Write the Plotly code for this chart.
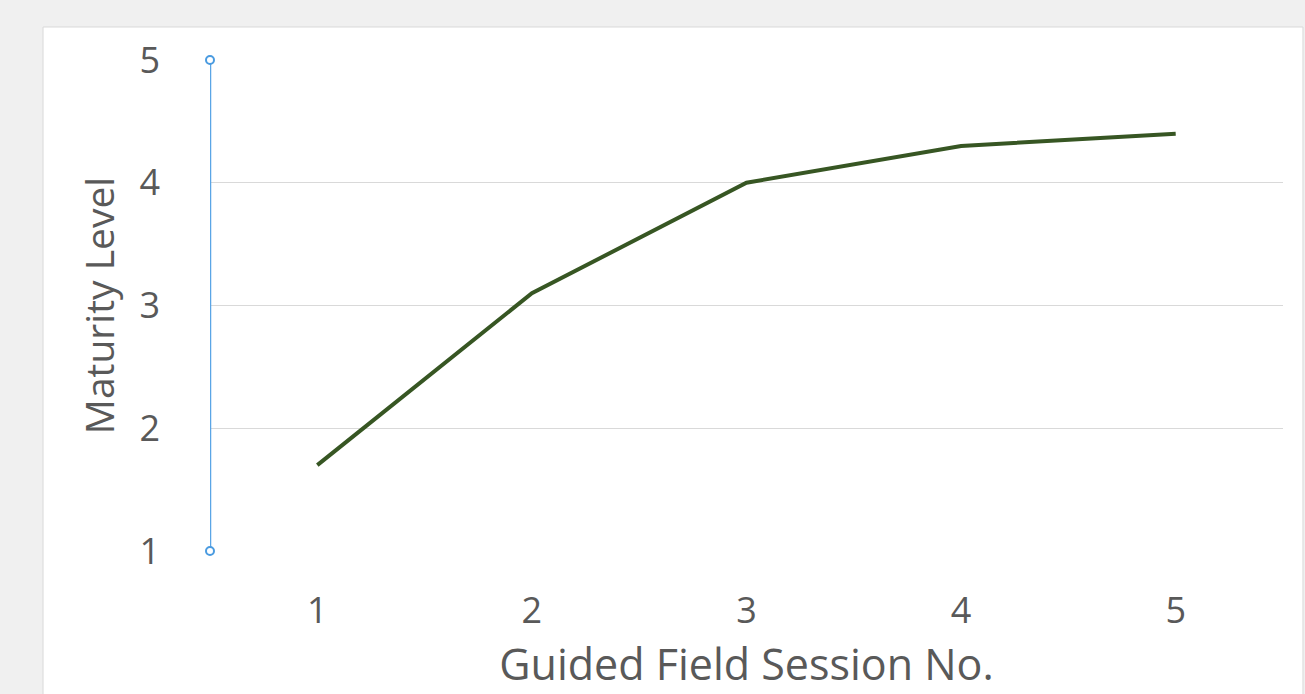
import plotly.graph_objects as go

sessions = [1, 2, 3, 4, 5]
maturity = [1.7, 3.1, 4.0, 4.3, 4.4]
y_ticks = [1, 2, 3, 4, 5]
x_title = "Guided Field Session No."
y_title = "Maturity Level"

FONT = "Open Sans, Noto Sans, sans-serif"
TXT = "#595959"

fig = go.Figure()

# selected y-axis indicator (Excel selection handles)
fig.add_trace(go.Scatter(
    x=[0.5, 0.5], y=[min(y_ticks), max(y_ticks)], mode="lines+markers",
    line=dict(color="#5aa5e6", width=2.5),
    marker=dict(size=8, color="white", line=dict(color="#4a9be0", width=2)),
    cliponaxis=False, hoverinfo="skip", showlegend=False))

fig.add_trace(go.Scatter(
    x=sessions, y=maturity, mode="lines",
    line=dict(color="#375623", width=4),
    showlegend=False))

fig.add_shape(type="rect", xref="paper", yref="paper",
              x0=-0.1556, x1=1.0186, y0=-0.4, y1=1.0672,
              fillcolor="white", line=dict(color="#d9d9d9", width=1),
              layer="below")

fig.update_layout(
    width=1305, height=694,
    margin=dict(l=210, r=22, t=60, b=143),
    paper_bgcolor="#f0f0f0", plot_bgcolor="rgba(0,0,0,0)",
    font=dict(family=FONT, color=TXT, size=36),
    xaxis=dict(range=[0.5, 5.5], tickvals=sessions, showgrid=False,
               zeroline=False, showline=False, ticks="",
               ticklabelstandoff=35,
               tickfont=dict(size=36, color=TXT),
               title=dict(text=x_title, font=dict(size=43, color=TXT), standoff=14)),
    yaxis=dict(range=[1, 5], tickvals=y_ticks, showgrid=True,
               gridcolor="#d9d9d9", gridwidth=1, zeroline=False,
               showline=False, ticks="", ticklabelstandoff=49,
               tickfont=dict(size=36, color=TXT),
               title=dict(text=y_title, font=dict(size=39, color=TXT), standoff=12)),
)

fig.write_html(
    "out.html",
    config={"displayModeBar": False},
    post_script="document.body.style.margin='0';document.body.style.background='#f0f0f0';document.body.style.overflow='hidden';",
)
